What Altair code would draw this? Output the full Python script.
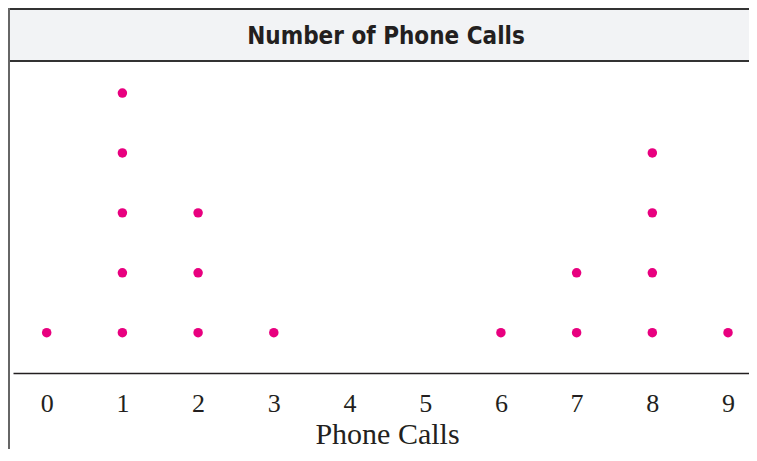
import altair as alt
import pandas as pd

calls = [0, 1, 2, 3, 4, 5, 6, 7, 8, 9]
counts = [1, 5, 3, 1, 0, 0, 1, 2, 4, 1]
chart_title = "Number of Phone Calls"
axis_title = "Phone Calls"

rows = [{"calls": c, "level": i + 1} for c, n in zip(calls, counts) for i in range(n)]
df = pd.DataFrame(rows)
one = pd.DataFrame({"t": [chart_title]})

W = 736
H = 365
INK = "#231f20"

x = alt.X(
    "calls:Q",
    scale=alt.Scale(domain=[-0.445, 9.277], nice=False, zero=False),
    axis=alt.Axis(
        values=calls, title=axis_title, format="d", ticks=False, grid=False,
        domainColor=INK, domainWidth=1.5,
        labelFont="Liberation Serif", labelFontSize=26, labelColor=INK,
        labelBaseline="alphabetic", labelPadding=38, labelFlush=False,
        titleFont="Liberation Serif", titleFontSize=30, titleFontWeight="normal",
        titleColor=INK, titleBaseline="alphabetic", titleY=70, titleX=374,
    ),
)
y = alt.Y("level:Q", scale=alt.Scale(domain=[0.327, 6.42], nice=False, zero=False), axis=None)

band = alt.Chart(one).mark_rect(fill="#f2f3f5", stroke="#333333", strokeWidth=2).encode(
    x=alt.value(-6), x2=alt.value(800), y=alt.value(1), y2=alt.value(53)
)
border = alt.Chart(one).mark_rule(color="#666666", strokeWidth=2).encode(
    x=alt.value(-4), y=alt.value(0), y2=alt.value(H + 90)
)
title = alt.Chart(one).mark_text(
    font="DejaVu Sans Condensed", fontWeight="bold", fontSize=24, color=INK,
    align="center", baseline="alphabetic",
).encode(text="t:N", x=alt.value(373), y=alt.value(36))
dots = alt.Chart(df).mark_circle(size=90, color="#e8007f", opacity=1).encode(x=x, y=y)

chart = alt.layer(band, border, title, dots).properties(
    width=W, height=H,
    padding={"left": 5, "top": 0, "right": 0, "bottom": 76},
    autosize=alt.AutoSizeParams(type="none"),
).configure_view(stroke=None)

chart.save("out.html", embed_options={"renderer": "svg", "actions": False})
